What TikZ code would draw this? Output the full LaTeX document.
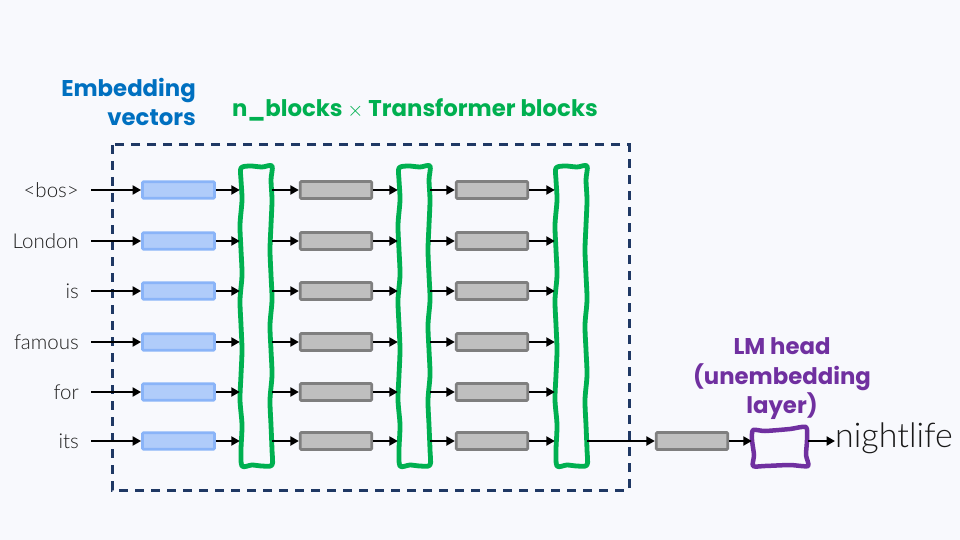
\documentclass[tikz,border=0pt]{standalone}
\usepackage{fontspec}
\IfFontExistsTF{Lato Light}{\setmainfont{Lato Light}}{\setmainfont{Lato}}
\newfontfamily\titlefont{Poppins}
\usetikzlibrary{arrows.meta}
\definecolor{bg}{RGB}{248,249,253}
\definecolor{navy}{RGB}{31,56,100}
\definecolor{embfill}{RGB}{176,204,250}
\definecolor{embline}{RGB}{138,180,248}
\definecolor{greyfill}{RGB}{191,191,191}
\definecolor{greyline}{RGB}{127,127,127}
\definecolor{tgreen}{RGB}{0,176,80}
\definecolor{tblue}{RGB}{0,112,192}
\definecolor{tpurple}{RGB}{112,48,160}
\newcommand\wavecol[1]{%
  \draw[greenline, shift={(#1,0)}] plot[smooth cycle, tension=0.5] coordinates {
  (1,168) (10,166) (22,167) (32,166)
  (31,180) (32,200) (31,225) (30,250) (31,275) (32,300) (30,325) (31,350) (32,375) (30,400) (31,425) (32,450) (32,465)
  (22,466) (12,465) (2,466)
  (1,450) (2,425) (0,400) (1,375) (2,350) (1,325) (0,300) (2,275) (1,250) (0,225) (2,200) (1,180)};}
\begin{document}
\begin{tikzpicture}[x=1pt,y=-1pt,
  embbox/.style={draw=embline, fill=embfill, line width=2.8pt, rounded corners=1pt, minimum width=72pt, minimum height=16.5pt, inner sep=0pt},
  greybox/.style={draw=greyline, fill=greyfill, line width=2.8pt, rounded corners=1pt, minimum width=71.5pt, minimum height=17pt, inner sep=0pt},
  colnode/.style={minimum width=32pt, minimum height=300pt, inner sep=0pt},
  arr/.style={-{Triangle[length=8.5pt,width=9pt]}, line width=2.8pt, black},
  greenline/.style={draw=tgreen, line width=4.8pt, line join=round},
  inlabel/.style={anchor=east, font=\fontsize{20.5}{24}\selectfont, text=black!88, inner sep=0pt},
  title/.style={font=\titlefont\bfseries\fontsize{22.8}{29.5}\selectfont, align=center, inner sep=0pt}
]
\fill[bg] (0,0) rectangle (960,540);
\useasboundingbox (0,0) rectangle (960,540);
% dashed frame
\draw[navy, line width=3pt, dash pattern=on 9pt off 7pt] (112,145) rectangle (629,490);
% titles
\node[title, text=tblue, align=right, anchor=east] (tEmb) at (196,102) {Embedding\\vectors};
\node[title, text=tgreen] (tTr) at (415,110) {n\_blocks {\normalfont\fontsize{22}{22}\selectfont$\times$} Transformer blocks};
\node[title, text=tpurple] (tLM) at (782,379) {LM head\\(unembedding\\layer)};
% columns
\node[colnode] (c1) at (256,315.5) {};
\node[colnode] (c2) at (414,315.5) {};
\node[colnode] (c3) at (571,315.5) {};
\wavecol{240}
\wavecol{398}
\wavecol{555}
% rows
\foreach \i/\y/\w in {1/190/{<bos>}, 2/241/London, 3/291/is, 4/342/famous, 5/392/for, 6/441/its} {
  \node[inlabel] (in\i) at (79,\y) {\w};
  \node[embbox] (e\i) at (178.5,\y) {};
  \node[greybox] (ga\i) at (336,\y) {};
  \node[greybox] (gb\i) at (492,\y) {};
  \draw[arr] ([xshift=12pt]in\i.east) -- (e\i.west);
  \draw[arr] (e\i.east) -- (e\i.east -| c1.west);
  \draw[arr] (c1.east |- ga\i) -- (ga\i.west);
  \draw[arr] (ga\i.east) -- (ga\i.east -| c2.west);
  \draw[arr] (c2.east |- gb\i) -- (gb\i.west);
  \draw[arr] (gb\i.east) -- (gb\i.east -| c3.west);
}
% output
\node[greybox] (go) at (692,441) {};
\node[minimum width=56pt, minimum height=38pt, inner sep=0pt] (lm) at (780,447) {};
\draw[draw=tpurple, line width=4.5pt, line join=round] plot[smooth cycle, tension=0.4] coordinates {
  (753,430) (765,431) (790,429) (806,427) (807,440) (806,455) (808,466) (790,465) (765,466) (753,466) (754,455) (752,440)};
\node[anchor=west, font=\fontsize{34}{34}\selectfont, inner sep=0pt, text=black!90] (out) at (835,438) {nightlife};
\draw[arr] (c3.east |- go) -- (go.west);
\draw[arr] (go.east) -- (go.east -| lm.west);
\draw[arr] (lm.east |- go) -- (out.west |- go);
\end{tikzpicture}
\end{document}
